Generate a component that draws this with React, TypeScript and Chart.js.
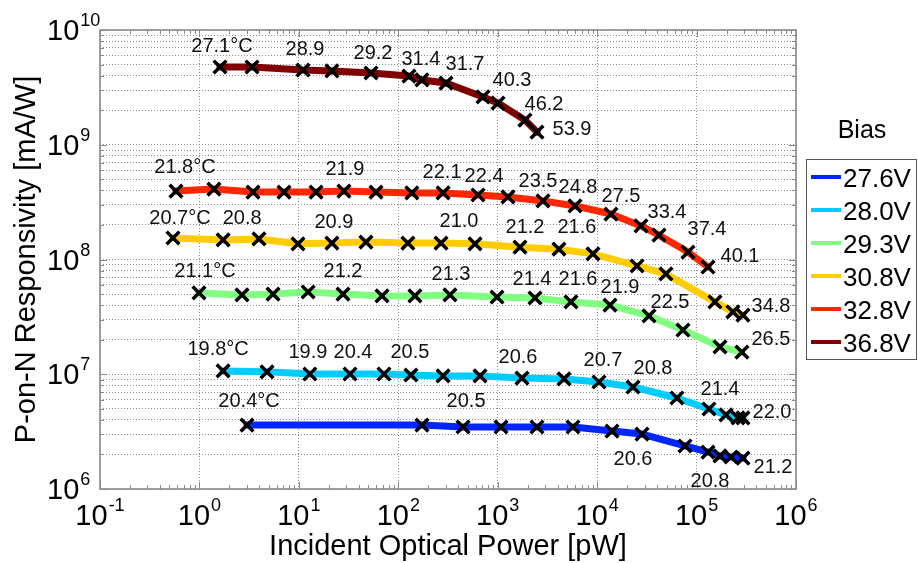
import React, { useEffect, useRef } from "react";
import { Chart, registerables } from "chart.js";

Chart.register(...registerables);

// ---- data: incident optical power [pW] vs P-on-N responsivity [mA/W] per bias ----
const biasLabels = ["27.6V", "28.0V", "29.3V", "30.8V", "32.8V", "36.8V"];

const power276 = [3.01, 173, 448, 1079, 2483, 5715, 14100, 28250, 76500, 130300, 172000, 222000, 293000];
const resp276 = [3.61e6, 3.61e6, 3.47e6, 3.47e6, 3.47e6, 3.47e6, 3.2e6, 3.01e6, 2.37e6, 2.1e6, 1.94e6, 1.9e6, 1.86e6];
const tempAt276 = [0, 2, 7, 9, 12];
const temp276 = ["20.4°C", "20.5", "20.6", "20.8", "21.2"];

const power280 = [1.73, 4.78, 12.9, 32.7, 71.8, 134, 282, 664, 1754, 4645, 10440, 22950, 63500, 133300, 197600, 261000, 293000];
const resp280 = [1.07e7, 1.05e7, 1.005e7, 1.005e7, 1.005e7, 9.85e6, 9.66e6, 9.66e6, 9.27e6, 9.1e6, 8.56e6, 7.74e6, 6.21e6, 4.98e6, 4.42e6, 4.16e6, 4.16e6];
const tempAt280 = [0, 2, 3, 5, 8, 10, 11, 13, 16];
const temp280 = ["19.8°C", "19.9", "20.4", "20.5", "20.6", "20.7", "20.8", "21.4", "22.0"];

const power293 = [0.99, 2.68, 5.5, 12.4, 27.8, 68.6, 147, 331, 984, 2371, 5458, 13460, 33240, 72950, 172000, 286000];
const resp293 = [5.11e7, 4.91e7, 5.0e7, 5.21e7, 5.0e7, 4.81e7, 4.81e7, 4.91e7, 4.71e7, 4.62e7, 4.27e7, 4.01e7, 3.22e7, 2.43e7, 1.73e7, 1.56e7];
const tempAt293 = [0, 4, 7, 9, 10, 11, 12, 15];
const temp293 = ["21.1°C", "21.2", "21.3", "21.4", "21.6", "21.9", "22.5", "26.5"];

const power308 = [0.542, 1.73, 3.97, 9.8, 21.5, 47.3, 125, 269, 591, 1675, 4130, 9080, 25200, 49200, 153000, 232000, 293000];
const resp308 = [1.54e8, 1.48e8, 1.51e8, 1.37e8, 1.39e8, 1.42e8, 1.39e8, 1.39e8, 1.37e8, 1.28e8, 1.23e8, 1.12e8, 8.78e7, 7.48e7, 4.27e7, 3.49e7, 3.28e7];
const tempAt308 = [0, 1, 4, 8, 9, 10, 16];
const temp308 = ["20.7°C", "20.8", "20.9", "21.0", "21.2", "21.6", "34.8"];

const power328 = [0.581, 1.4, 3.46, 7.09, 14.9, 28.4, 59.7, 137, 282, 634, 1268, 2852, 5986, 13770, 27600, 41900, 82000, 130300];
const resp328 = [3.95e8, 4.11e8, 3.87e8, 3.87e8, 3.87e8, 3.95e8, 3.87e8, 3.8e8, 3.8e8, 3.65e8, 3.51e8, 3.24e8, 2.93e8, 2.49e8, 1.96e8, 1.63e8, 1.16e8, 8.6e7];
const tempAt328 = [0, 5, 8, 9, 11, 12, 13, 15, 16, 17];
const temp328 = ["21.8°C", "21.9", "22.1", "22.4", "23.5", "24.8", "27.5", "33.4", "37.4", "40.1"];

const power368 = [1.61, 3.38, 11.0, 21.5, 53.2, 128, 173, 302, 711, 1007, 1880, 2483];
const resp368 = [4.76e9, 4.76e9, 4.48e9, 4.4e9, 4.22e9, 3.97e9, 3.67e9, 3.45e9, 2.61e9, 2.31e9, 1.64e9, 1.29e9];
const tempAt368 = [0, 2, 4, 6, 7, 9, 10, 11];
const temp368 = ["27.1°C", "28.9", "29.2", "31.4", "31.7", "40.3", "46.2", "53.9"];

// decade exponents shown on the axes
const xExponents = [-1, 0, 1, 2, 3, 4, 5, 6];
const yExponents = [6, 7, 8, 9, 10];

const xTitle = "Incident Optical Power [pW]";
const yTitle = "P-on-N Responsivity [mA/W]";
const legendTitle = "Bias";

// ---- styling ----
const FONT = '"Liberation Sans", Arial, Helvetica, sans-serif';
const lineColors = ["#0026ff", "#00ccff", "#80ff80", "#ffcc00", "#ff2600", "#800000"];
const GRID = "#8c8c8c";
const FRAME = "#8a8a8a";

// text nudges (px) for each temperature label, relative to its marker
const nudge276 = [[2, -18], [3, -20], [-9, 31], [2, 35], [30, 15]];
const nudge280 = [[-5, -16], [-2, -16], [3, -16], [-1, -17], [-4, -15], [4, -16], [20, -13], [11, -14], [29, 0]];
const nudge293 = [[6, -16], [0, -17], [1, -15], [-3, -13], [7, -17], [10, -12], [21, -8], [29, -7]];
const nudge308 = [[7, -14], [19, -16], [2, -15], [-16, -17], [5, -14], [18, -16], [28, -3]];
const nudge328 = [[9, -18], [1, -16], [-1, -15], [6, -13], [-5, -14], [3, -13], [10, -12], [8, -17], [19, -17], [32, -5]];
const nudge368 = [[2, -15], [2, -15], [2, -14], [-1, -15], [19, -13], [14, -17], [19, -10], [35, 3]];

const seriesPower = [power276, power280, power293, power308, power328, power368];
const seriesResp = [resp276, resp280, resp293, resp308, resp328, resp368];
const seriesTempAt = [tempAt276, tempAt280, tempAt293, tempAt308, tempAt328, tempAt368];
const seriesTemp = [temp276, temp280, temp293, temp308, temp328, temp368];
const seriesNudge = [nudge276, nudge280, nudge293, nudge308, nudge328, nudge368];

function decadeValues(lo: number, hi: number, withMinor: boolean) {
  const out: number[] = [];
  for (let e = lo; e <= hi; e++) {
    if (e === hi || !withMinor) {
      out.push(Math.pow(10, e));
      continue;
    }
    for (let m = 1; m <= 9; m++) out.push(m * Math.pow(10, e));
  }
  return out;
}

function drawPower(
  ctx: CanvasRenderingContext2D,
  exp: number,
  x: number,
  baseline: number,
  align: "center" | "left"
) {
  const base = `29px ${FONT}`;
  const sup = `18px ${FONT}`;
  ctx.font = base;
  const w1 = ctx.measureText("10").width;
  ctx.font = sup;
  const w2 = ctx.measureText(String(exp)).width;
  const left = align === "center" ? x - (w1 + w2 + 1) / 2 : x;
  ctx.textAlign = "left";
  ctx.textBaseline = "alphabetic";
  ctx.font = base;
  ctx.fillText("10", left, baseline);
  ctx.font = sup;
  ctx.fillText(String(exp), left + w1 + 1, baseline - 14);
}

const decor = {
  id: "decor",
  beforeDatasetsDraw(chart: any) {
    const { ctx, chartArea: a, scales } = chart;
    const xs = scales.x;
    const ys = scales.y;
    ctx.save();
    ctx.strokeStyle = FRAME;
    ctx.lineWidth = 1;
    ctx.beginPath();
    // inward tick marks on all four sides
    for (const v of decadeValues(-1, 6, true)) {
      const px = Math.round(xs.getPixelForValue(v)) + 0.5;
      const major = Math.abs(Math.log10(v) - Math.round(Math.log10(v))) < 1e-9;
      const len = major ? 7 : 4;
      ctx.moveTo(px, a.bottom);
      ctx.lineTo(px, a.bottom - len);
      ctx.moveTo(px, a.top);
      ctx.lineTo(px, a.top + len);
    }
    for (const v of decadeValues(6, 10, true)) {
      const py = Math.round(ys.getPixelForValue(v)) + 0.5;
      const major = Math.abs(Math.log10(v) - Math.round(Math.log10(v))) < 1e-9;
      const len = major ? 7 : 4;
      ctx.moveTo(a.left, py);
      ctx.lineTo(a.left + len, py);
      ctx.moveTo(a.right, py);
      ctx.lineTo(a.right - len, py);
    }
    ctx.stroke();
    ctx.lineWidth = 1.6;
    ctx.strokeRect(a.left, a.top, a.right - a.left, a.bottom - a.top);
    ctx.restore();
  },
  afterDatasetsDraw(chart: any) {
    const { ctx } = chart;
    ctx.save();
    ctx.font = `20px ${FONT}`;
    ctx.fillStyle = "#111";
    ctx.textAlign = "center";
    ctx.textBaseline = "alphabetic";
    seriesTempAt.forEach((idxs, s) => {
      const meta = chart.getDatasetMeta(s);
      idxs.forEach((i, k) => {
        const pt = meta.data[i];
        const [dx, dy] = seriesNudge[s][k];
        ctx.fillText(seriesTemp[s][k], pt.x + dx, pt.y + dy);
      });
    });
    ctx.restore();
  },
  afterDraw(chart: any) {
    const { ctx, chartArea: a, scales } = chart;
    const xs = scales.x;
    const ys = scales.y;
    ctx.save();
    ctx.fillStyle = "#000";
    // decade tick labels
    for (const e of xExponents) {
      drawPower(ctx, e, xs.getPixelForValue(Math.pow(10, e)), a.bottom + 36, "center");
    }
    for (const e of yExponents) {
      drawPower(ctx, e, 47, ys.getPixelForValue(Math.pow(10, e)) + 10, "left");
    }
    // axis titles
    ctx.font = `29px ${FONT}`;
    ctx.textAlign = "center";
    ctx.textBaseline = "alphabetic";
    ctx.fillText(xTitle, (a.left + a.right) / 2, 555);
    ctx.save();
    ctx.translate(35, (a.top + a.bottom) / 2);
    ctx.rotate(-Math.PI / 2);
    ctx.fillText(yTitle, 0, 0);
    ctx.restore();

    // legend
    ctx.font = `25px ${FONT}`;
    ctx.fillText(legendTitle, 862, 138);
    ctx.strokeStyle = "#555";
    ctx.lineWidth = 1;
    ctx.strokeRect(806.5, 159.5, 110, 200);
    ctx.textAlign = "left";
    ctx.font = `26px ${FONT}`;
    chart.data.datasets.forEach((ds: any, i: number) => {
      const cy = 177 + i * 33;
      ctx.strokeStyle = ds.borderColor;
      ctx.lineWidth = 4;
      ctx.beginPath();
      ctx.moveTo(811, cy);
      ctx.lineTo(841, cy);
      ctx.stroke();
      ctx.fillStyle = "#000";
      ctx.fillText(ds.label, 843, cy + 9.5);
    });
    ctx.restore();
  },
};

export default function App() {
  const canvasRef = useRef<HTMLCanvasElement>(null);

  useEffect(() => {
    const canvas = canvasRef.current;
    if (!canvas) return;

    const datasets = biasLabels.map((label, s) => ({
      label,
      data: seriesPower[s].map((p, i) => ({ x: p, y: seriesResp[s][i] })),
      borderColor: lineColors[s],
      backgroundColor: lineColors[s],
      borderWidth: 7,
      borderCapStyle: "round" as const,
      borderJoinStyle: "round" as const,
      tension: 0,
      fill: false,
      pointStyle: "crossRot" as const,
      pointRadius: 9,
      pointBorderWidth: 3.5,
      pointBorderColor: "#000",
      pointBackgroundColor: "#000",
    }));

    const chart = new Chart(canvas, {
      type: "line",
      data: { datasets },
      options: {
        animation: false,
        responsive: false,
        devicePixelRatio: 1,
        events: [],
        layout: { padding: { left: 100, right: 122, top: 30, bottom: 74 } },
        plugins: {
          legend: { display: false },
          title: { display: false },
          tooltip: { enabled: false },
        },
        scales: {
          x: {
            type: "logarithmic",
            min: 0.1,
            max: 1e6,
            afterBuildTicks: (scale: any) => {
              scale.ticks = decadeValues(-1, 6, false).map((v) => ({ value: v }));
            },
            afterFit: (scale: any) => {
              scale.height = 0;
            },
            ticks: { display: false, autoSkip: false },
            grid: { color: GRID, lineWidth: 1, drawTicks: false },
            border: { display: false, dash: [1, 2] },
          },
          y: {
            type: "logarithmic",
            min: 1e6,
            max: 1e10,
            afterBuildTicks: (scale: any) => {
              scale.ticks = decadeValues(6, 10, true).map((v) => ({ value: v }));
            },
            afterFit: (scale: any) => {
              scale.width = 0;
            },
            ticks: { display: false, autoSkip: false },
            grid: { color: GRID, lineWidth: 1, drawTicks: false },
            border: { display: false, dash: [1, 2] },
          },
        },
      } as any,
      plugins: [decor],
    });

    return () => chart.destroy();
  }, []);

  return (
    <div
      style={{
        position: "absolute",
        left: 0,
        top: 0,
        width: 918,
        height: 563,
        background: "#fff",
      }}
    >
      <canvas ref={canvasRef} width={918} height={563} style={{ display: "block" }} />
    </div>
  );
}
